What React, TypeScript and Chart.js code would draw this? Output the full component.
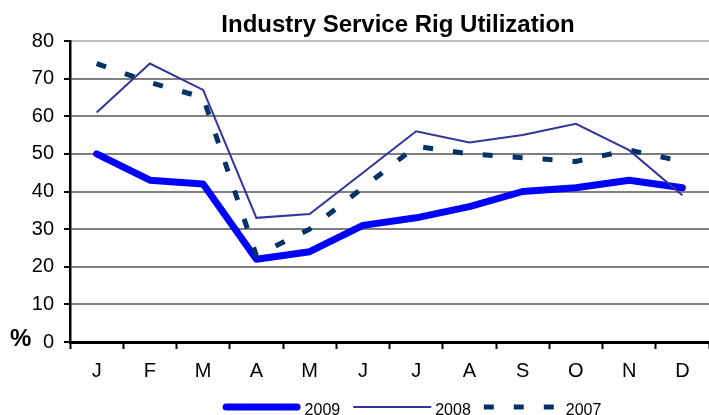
import React, { useEffect, useRef } from "react";
import { Chart, registerables } from "chart.js";

Chart.register(...registerables);

const months = ["J", "F", "M", "A", "M", "J", "J", "A", "S", "O", "N", "D"];
const seriesLabels = ["2009", "2008", "2007"];
const values2009 = [50, 43, 42, 22, 24, 31, 33, 36, 40, 41, 43, 41];
const values2008 = [61, 74, 67, 33, 34, 45, 56, 53, 55, 58, 51, 39];
const values2007 = [74, 69, 65, 23, 30, 41, 52, 50, 49, 48, 51, 48];
const yTicks = [0, 10, 20, 30, 40, 50, 60, 70, 80];
const titleText = "Industry Service Rig Utilization";
const unitText = "%";

const FONT = "'Liberation Sans', Arial, sans-serif";

const overlayPlugin = {
  id: "overlay",
  afterDraw(chart: any) {
    const ctx = chart.ctx as CanvasRenderingContext2D;
    ctx.save();
    // Title
    ctx.fillStyle = "#000";
    ctx.font = `bold 24px ${FONT}`;
    ctx.textAlign = "center";
    ctx.textBaseline = "alphabetic";
    ctx.fillText(titleText, 398, 31.5);
    // Unit
    ctx.font = `bold 24px ${FONT}`;
    ctx.textAlign = "left";
    ctx.fillText(unitText, 10, 346);
    // Legend
    ctx.font = `16px ${FONT}`;
    const lineLen = 78;
    const gapText = 4;
    const gapItem = 13;
    const items = chart.data.datasets.map((ds: any) => ({
      ds,
      tw: ctx.measureText(ds.label).width,
    }));
    let total = 0;
    items.forEach((it: any, i: number) => {
      total += lineLen + gapText + it.tw + (i < items.length - 1 ? gapItem : 0);
    });
    let x = 412 - total / 2;
    const ly = 407;
    items.forEach((it: any) => {
      const ds = it.ds;
      ctx.save();
      ctx.strokeStyle = ds.borderColor;
      ctx.lineWidth = ds.borderWidth;
      ctx.lineCap = ds.borderCapStyle || "butt";
      ctx.setLineDash(ds.borderDash || []);
      const inset = ds.borderCapStyle === "round" ? ds.borderWidth / 2 : 0;
      ctx.beginPath();
      ctx.moveTo(x + inset, ly);
      ctx.lineTo(x + lineLen - inset, ly);
      ctx.stroke();
      ctx.restore();
      ctx.fillStyle = "#000";
      ctx.textAlign = "left";
      ctx.textBaseline = "alphabetic";
      ctx.fillText(ds.label, x + lineLen + gapText, 414.5);
      x += lineLen + gapText + it.tw + gapItem;
    });
    ctx.restore();
  },
};

export default function App() {
  const ref = useRef<HTMLCanvasElement>(null);
  useEffect(() => {
    if (!ref.current) return;
    const chart = new Chart(ref.current, {
      type: "line",
      data: {
        labels: months,
        datasets: [
          {
            label: seriesLabels[0],
            data: values2009,
            borderColor: "#0000ff",
            backgroundColor: "#0000ff",
            borderWidth: 7,
            borderCapStyle: "round",
            borderJoinStyle: "round",
            pointRadius: 0,
            tension: 0,
            order: 3,
          },
          {
            label: seriesLabels[1],
            data: values2008,
            borderColor: "#333399",
            backgroundColor: "#333399",
            borderWidth: 2,
            pointRadius: 0,
            tension: 0,
            order: 1,
          },
          {
            label: seriesLabels[2],
            data: values2007,
            borderColor: "#003366",
            backgroundColor: "#003366",
            borderWidth: 5,
            borderDash: [10, 20],
            borderCapStyle: "butt",
            pointRadius: 0,
            tension: 0,
            order: 2,
          },
        ],
      } as any,
      options: {
        animation: false,
        responsive: false,
        devicePixelRatio: 1,
        layout: { padding: { top: 41, left: 0, right: 0, bottom: 0 } },
        plugins: {
          legend: { display: false },
          title: { display: false },
          tooltip: { enabled: false },
        },
        scales: {
          x: {
            type: "category",
            offset: true,
            afterFit: (s: any) => {
              s.height = 73;
            },
            grid: {
              offset: true,
              drawOnChartArea: false,
              drawTicks: true,
              tickLength: 7,
              tickWidth: 2,
              tickColor: "#000",
            },
            border: { display: true, color: "#000", width: 3 },
            ticks: {
              color: "#000",
              font: { family: FONT, size: 20 },
              padding: 10,
              maxRotation: 0,
              autoSkip: false,
            },
          },
          y: {
            min: 0,
            max: 80,
            afterFit: (s: any) => {
              s.width = 70;
            },
            afterBuildTicks: (s: any) => {
              s.ticks = yTicks.map((v) => ({ value: v }));
            },
            grid: {
              color: (c: any) => (c.tick && c.tick.value === 80 ? "#c0c0c0" : "#808080"),
              lineWidth: 2,
              drawTicks: true,
              tickLength: 6,
              tickWidth: 2,
              tickColor: "#000",
            },
            border: { display: true, color: "#000", width: 2.5 },
            ticks: {
              color: "#000",
              font: { family: FONT, size: 20 },
              padding: 10,
            },
          },
        },
      } as any,
      plugins: [overlayPlugin],
    });
    return () => chart.destroy();
  }, []);
  return (
    <div style={{ position: "fixed", left: 0, top: 0, width: 709, height: 415 }}>
      <canvas ref={ref} width={709} height={415} style={{ display: "block" }} />
    </div>
  );
}
